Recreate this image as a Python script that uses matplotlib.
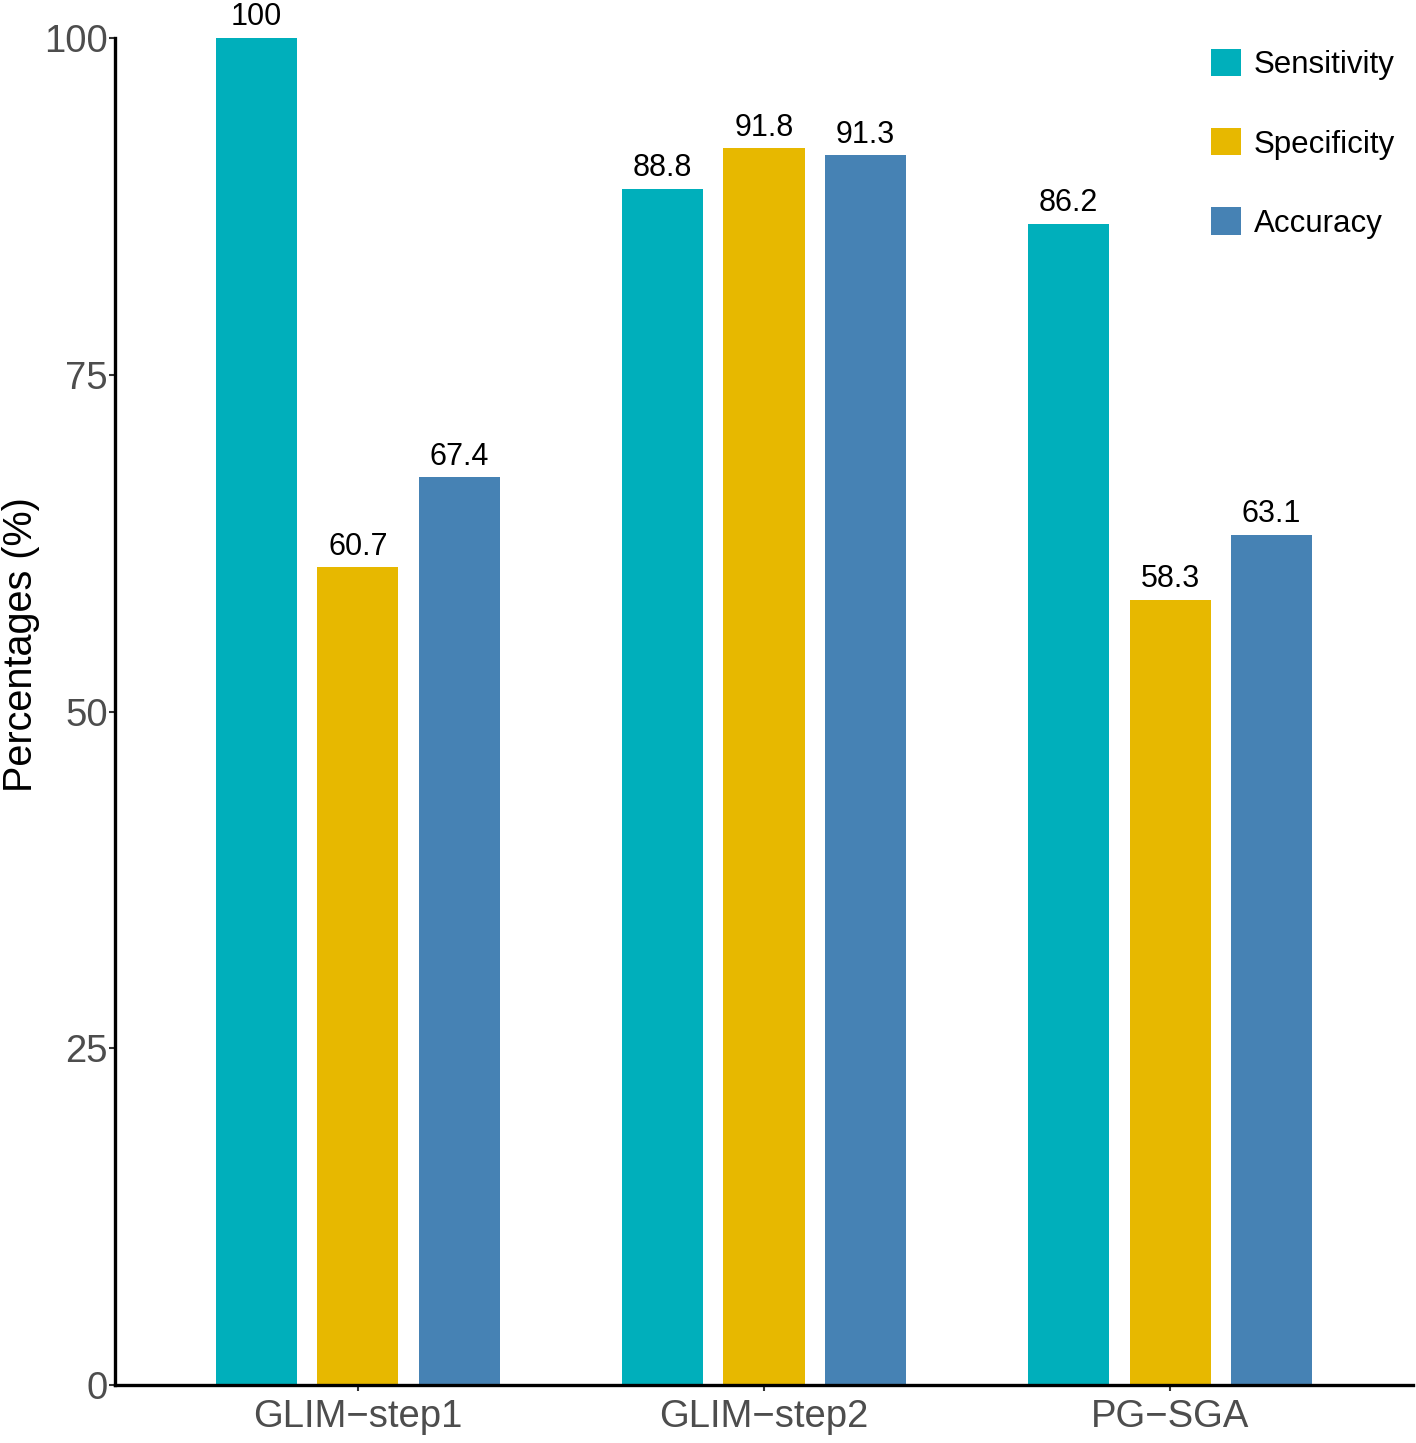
import matplotlib
matplotlib.use("Agg")
import matplotlib.pyplot as plt
from matplotlib.patches import Patch
import numpy as np

plt.rcParams['font.family'] = ['Liberation Sans', 'DejaVu Sans']

categories = ["GLIM\u2212step1", "GLIM\u2212step2", "PG\u2212SGA"]
series_names = ["Sensitivity", "Specificity", "Accuracy"]
sensitivity = [100, 88.8, 86.2]
specificity = [60.7, 91.8, 58.3]
accuracy = [67.4, 91.3, 63.1]
yticks = [0, 25, 50, 75, 100]
colors = ["#00AFBB", "#E7B800", "#4682B4"]

fig = plt.figure(figsize=(14.16, 14.43), dpi=100)
ax = fig.add_axes([115/1416, 58/1443, (1413-115)/1416, (1385-38)/1443])

x = np.arange(1, len(categories) + 1)
width = 0.2
offsets = [-0.25, 0, 0.25]
for vals, off, col, name in zip([sensitivity, specificity, accuracy], offsets, colors, series_names):
    ax.bar(x + off, vals, width=width, color=col, label=name, zorder=2)
    for xi, v in zip(x + off, vals):
        ax.annotate(f"{v:g}", (xi, v), xytext=(0, 4), textcoords="offset points",
                    ha="center", va="bottom", fontsize=22, color="black",
                    annotation_clip=False)

ax.set_xlim(0.402, 3.598)
ax.set_ylim(0, 100)
ax.set_xticks(x)
ax.set_xticklabels(categories)
ax.set_yticks(yticks)
ax.set_yticklabels([str(t) for t in yticks])
ax.tick_params(axis='both', labelsize=27.5, labelcolor="#4D4D4D", color="#333333",
               length=4, width=1.5, direction='out')
ax.tick_params(axis='y', pad=1)
ax.tick_params(axis='x', pad=6)
for s in ['top', 'right']:
    ax.spines[s].set_visible(False)
for s in ['left', 'bottom']:
    ax.spines[s].set_linewidth(2.4)
    ax.spines[s].set_color("black")
ax.set_ylabel("Percentages (%)", fontsize=28.5, color="black")
ax.yaxis.set_label_coords(-75/1298, (1385-645)/1347)

handles = [Patch(facecolor=c, edgecolor='none', label=n) for c, n in zip(colors, series_names)]
ax.legend(handles=handles, loc="upper left", bbox_to_anchor=((1189-115)/1298, 1.008),
          frameon=False, fontsize=22.5, handlelength=0.96, handleheight=0.96,
          handletextpad=0.42, labelspacing=1.53, borderaxespad=0.3)

fig.savefig("out.png", dpi=100)
